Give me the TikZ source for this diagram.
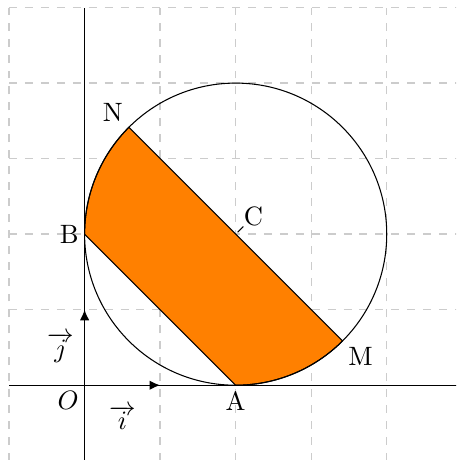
\documentclass[tikz,border=0pt]{standalone}
\usetikzlibrary{arrows.meta}
\definecolor{bandorange}{RGB}{255,128,0}
\definecolor{gridgray}{RGB}{204,204,204}

\begin{document}
\begin{tikzpicture}[line width=0.5pt,>={Latex[length=4pt,width=3.6pt]},
    ptlabel/.style={inner sep=2pt}]
  \useasboundingbox (-1.12,-0.99) rectangle (4.92,5.1);
  \clip (-1.12,-0.99) rectangle (4.92,5.1);
  \draw[gridgray,dashed] (-1,-1) grid (5,5);
  \coordinate (O) at (0,0);
  \coordinate (I) at (1,0);
  \coordinate (J) at (0,1);
  \coordinate (Xl) at (-1,0);
  \coordinate (Xr) at (5,0);
  \coordinate (Yb) at (0,-1);
  \coordinate (Yt) at (0,5);
  \coordinate (A) at (2,0);
  \coordinate (B) at (0,2);
  \coordinate (M) at ({2+sqrt(2)},{2-sqrt(2)});
  \coordinate (N) at ({2-sqrt(2)},{2+sqrt(2)});
  % band between (AB) and (MN)
  \filldraw[fill=bandorange,line width=0.4pt] (B) -- (A)
    arc[start angle=-90,end angle=-45,radius=2] -- (N)
    arc[start angle=135,end angle=180,radius=2] -- cycle;
  \node[inner sep=0pt,pin={[pin distance=3pt,inner sep=0pt,pin edge={black,line width=0.4pt}]45:C}] (C) at (2,2) {};
  \draw[line width=0.4pt] (C) circle (2);
  % axes and unit vectors
  \draw (Xl) -- (Xr);
  \draw (Yb) -- (Yt);
  \draw[->] (O) -- (I) node[midway,below=4pt]{$\overrightarrow{i}$};
  \draw[->] (O) -- (J) node[midway,left=0.5pt]{$\overrightarrow{j}$};
  \node[ptlabel,below left] (labO) at (O) {$O$};
  \node[ptlabel,below] (labA) at (A) {A};
  \node[ptlabel,left] (labB) at (B) {B};
  \node[ptlabel,below right] (labM) at (M) {M};
  \node[ptlabel,above left] (labN) at (N) {N};
\end{tikzpicture}
\end{document}
